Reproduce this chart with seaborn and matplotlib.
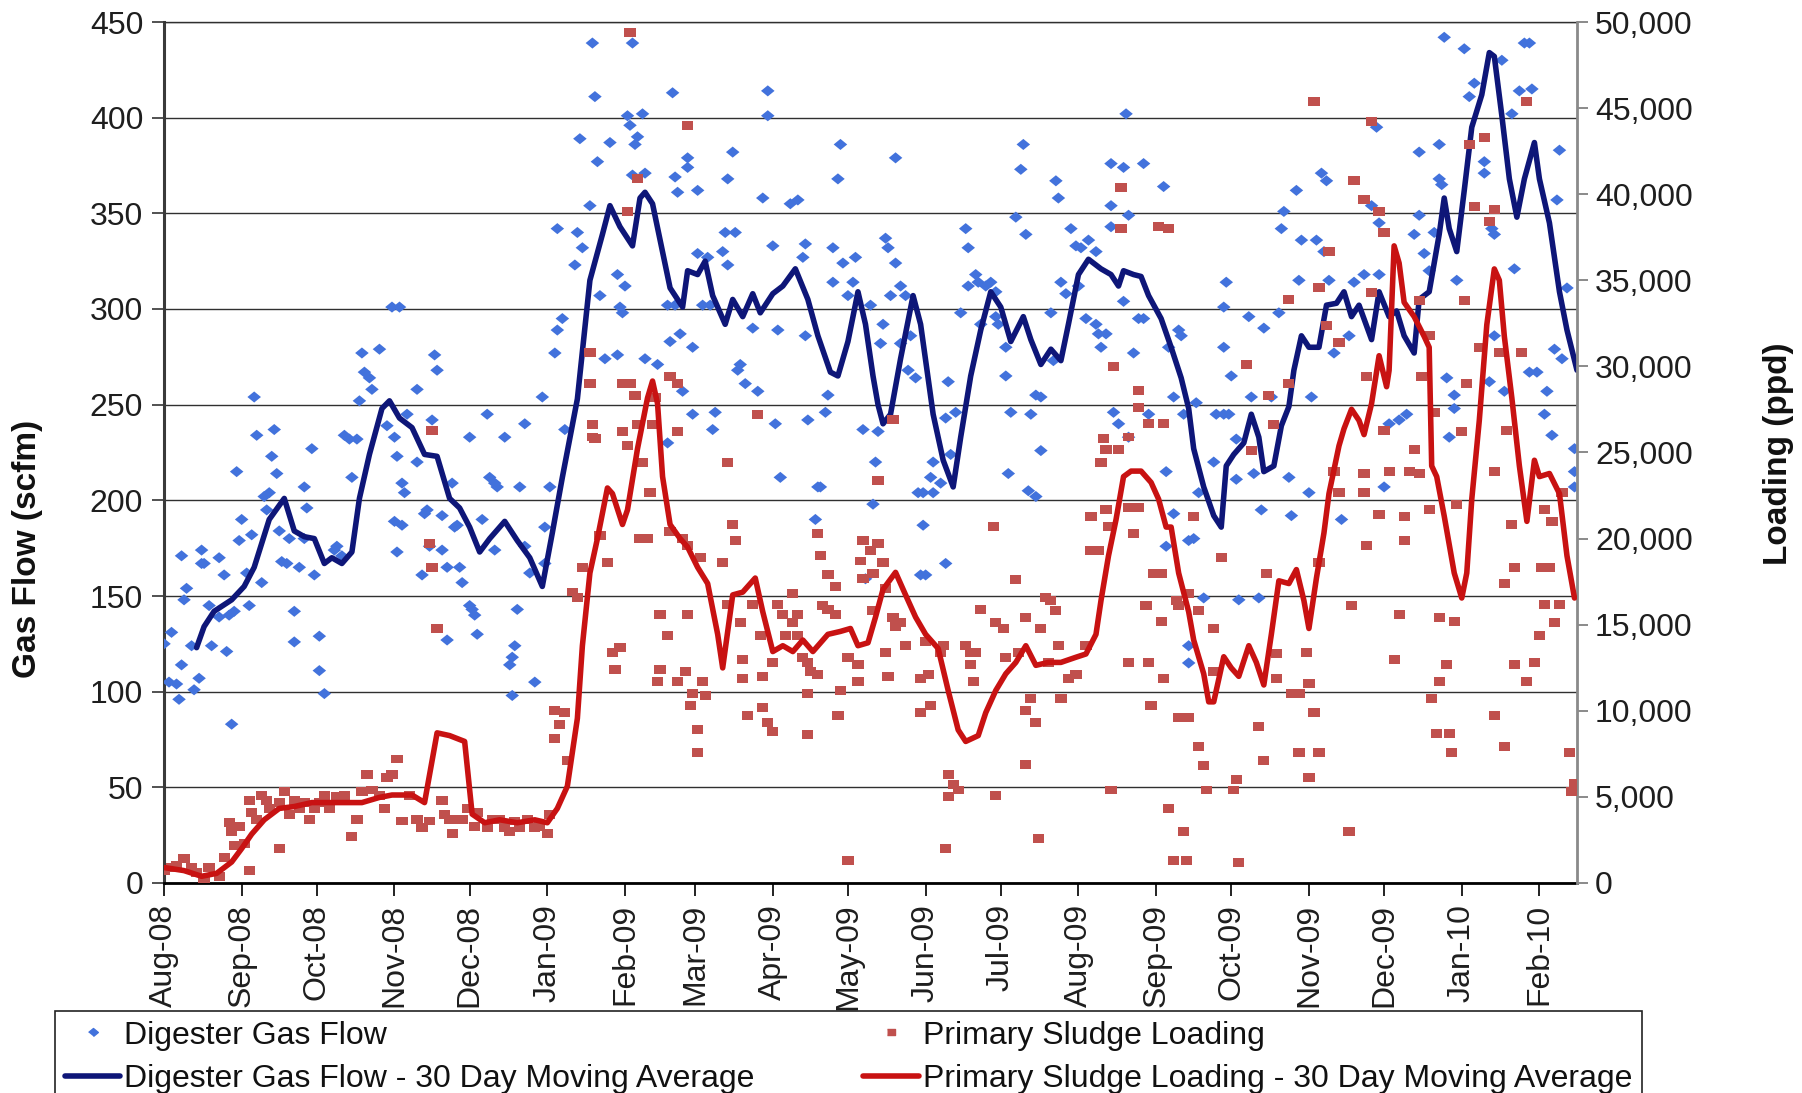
import numpy as np
import pandas as pd
import matplotlib
matplotlib.use("Agg")
import matplotlib.pyplot as plt
import matplotlib.dates as mdates
from matplotlib.ticker import FuncFormatter
from matplotlib.lines import Line2D
import seaborn as sns

# ---------------------------------------------------------------------------
# Daily digester gas flow (scfm), day offsets counted from 1 Aug 2008
# ---------------------------------------------------------------------------
gas_day = [
    0, 3, 2, 5, 6, 7, 7, 8, 9, 11, 12, 14, 15, 15, 16, 18, 19, 22, 22, 24,
    25, 26, 27, 28, 29, 30, 31, 33, 34, 35, 36, 37, 39, 40, 41, 42, 44, 43, 45, 46,
    47, 49, 50, 52, 52, 54, 56, 56, 57, 59, 60, 62, 62, 64, 68, 69, 71, 72, 74, 75,
    77, 78, 79, 80, 82, 83, 86, 89, 91, 94, 92, 93,
    92, 93, 95, 95, 96, 97, 101, 101, 104, 105, 106, 103, 108, 109, 107, 111, 111, 113, 113, 115,
    116, 117, 118, 119, 122, 122, 123, 124, 125, 127, 129, 130, 132, 133, 132, 136, 138, 139, 140, 139,
    141, 142, 144, 144, 146, 148, 151, 152, 154, 152, 156, 157, 159, 157, 160, 164, 165, 167, 166, 170,
    171, 172, 173, 174, 176, 178, 181, 181, 182, 183, 184, 185, 186, 187, 188, 189,
    191, 192, 187, 203, 204, 205, 209, 209, 213, 225, 227, 224, 228, 241, 241, 239, 243, 250, 253, 255,
    256, 270, 269, 267, 271, 276, 267, 275, 273, 225, 223, 213, 217, 218, 215, 201, 202, 206, 211, 204,
    192, 197, 207, 211, 220, 219, 229, 230, 232, 237, 235, 245, 256, 265, 264, 257, 244, 246, 261, 262,
    260, 279, 280, 201,
    292, 288, 289, 292, 290, 294, 287, 286, 282, 294, 297, 300, 298, 296, 285, 284, 283, 313, 312, 316,
    314, 307, 306, 310, 301, 303, 307, 303, 302, 304, 312, 320, 321, 324, 318, 321, 325, 328, 330, 332,
    332, 333, 336, 326, 340, 342, 343, 344, 336, 338, 346, 348, 350, 350, 337, 345, 348, 354, 355, 356,
    357, 358, 360, 362, 364, 366, 369, 365, 368, 372, 373, 374, 376, 372,
    384, 378, 383, 391, 399, 378, 385, 378, 383, 389, 391, 387, 405, 406, 401, 403, 407, 400, 403, 400,
    409, 411, 413, 412, 393, 379, 381, 385, 409, 409, 415, 419, 420, 423, 425, 424, 423, 423, 426, 428,
    428, 429, 433, 434, 439, 442, 435, 438, 437, 445, 446, 447, 449, 450, 452, 454, 453, 457, 458, 460,
    462, 464, 463, 465, 467, 470, 473, 475,
    479, 485, 487, 482, 485, 484, 489, 493, 496, 499, 503, 505, 501, 501, 509, 509, 507, 510, 511, 512,
    515, 515, 513, 516, 519, 521, 523, 527, 527, 530, 531, 529, 531, 535, 534, 538, 539, 541, 543, 545,
    546, 545, 548, 552, 551, 554, 557, 556, 555, 558, 560, 563, 563, 563,
]
gas_flow = [
    125, 131, 105, 104, 96, 114, 171, 148, 154, 124, 101, 107, 167, 174, 167, 145, 124, 170, 139, 161,
    121, 140, 83, 142, 215, 179, 190, 162, 145, 182, 254, 234, 157, 202, 195, 204, 237, 223, 214, 184,
    168, 167, 180, 142, 126, 165, 207, 180, 196, 227, 161, 129, 111, 99, 174, 176, 171, 234, 232, 212,
    232, 252, 277, 267, 264, 258, 279, 239, 301, 301, 189, 173,
    233, 223, 209, 187, 204, 245, 258, 220, 193, 195, 176, 161, 276, 268, 242, 192, 174, 165, 127, 209,
    186, 187, 165, 157, 233, 145, 143, 140, 130, 190, 245, 212, 209, 207, 174, 233, 114, 118, 124, 98,
    143, 207, 240, 176, 162, 105, 254, 186, 207, 167, 277, 289, 295, 342, 237, 323, 340, 332, 389, 354,
    439, 411, 377, 307, 274, 387, 276, 318, 301, 298, 312, 401, 396, 439, 386, 390,
    402, 371, 370, 413, 369, 361, 374, 379, 362, 368, 382, 340, 340, 414, 401, 358, 333, 355, 357, 327,
    334, 386, 368, 332, 324, 327, 314, 314, 307, 323, 330, 329, 327, 302, 302, 302, 283, 287, 280, 302,
    274, 271, 257, 245, 246, 237, 268, 271, 261, 257, 290, 289, 286, 255, 246, 242, 240, 212, 207, 207,
    190, 237, 159, 230,
    379, 337, 332, 324, 307, 312, 292, 282, 302, 282, 268, 264, 286, 307, 236, 220, 198, 262, 243, 246,
    224, 220, 212, 209, 204, 204, 204, 187, 161, 161, 167, 342, 332, 318, 298, 312, 314, 312, 314, 309,
    296, 292, 280, 292, 348, 373, 386, 339, 265, 246, 245, 255, 254, 226, 214, 205, 202, 298, 273, 367,
    358, 314, 308, 342, 333, 332, 336, 312, 295, 292, 287, 280, 287, 330,
    402, 376, 374, 376, 364, 354, 349, 343, 304, 295, 295, 277, 289, 286, 280, 254, 245, 215, 193, 176,
    179, 180, 204, 251, 245, 246, 240, 233, 124, 115, 149, 220, 245, 245, 245, 314, 301, 280, 265, 232,
    211, 148, 296, 254, 290, 254, 214, 195, 149, 298, 342, 351, 212, 192, 362, 336, 315, 204, 254, 336,
    371, 367, 330, 315, 277, 190, 286, 314,
    318, 318, 207, 354, 345, 395, 240, 242, 245, 339, 329, 320, 382, 349, 386, 368, 340, 365, 442, 264,
    255, 248, 233, 315, 436, 411, 418, 377, 371, 342, 339, 262, 286, 257, 430, 402, 321, 414, 439, 439,
    415, 267, 267, 257, 245, 234, 383, 357, 279, 274, 311, 227, 215, 207,
]

# ---------------------------------------------------------------------------
# Daily primary sludge loading (ppd)
# ---------------------------------------------------------------------------
sludge_day = [
    0, 3, 5, 8, 11, 13, 16, 18, 22, 24, 26, 27, 28, 30, 32, 34, 34, 35, 37, 39,
    41, 42, 46, 46, 48, 50, 52, 54, 56, 58, 60, 62, 64, 66, 69, 72, 75, 77, 79, 81,
    83, 86, 88, 89, 91, 93,
    95, 98, 101, 103, 106, 107, 106, 107, 109, 111, 112, 114, 115, 117, 119, 121, 124, 125, 129, 131,
    134, 136, 138, 140, 142, 145, 148, 150, 153, 154, 156, 158, 160, 156, 161, 163, 165, 167, 170, 170,
    171, 172, 174, 177, 179, 182, 180, 183, 184, 186, 188, 183, 171, 186, 189, 185, 190,
    209, 185, 189, 195, 196, 191, 194, 191, 193, 202, 205, 205, 202, 207, 209, 198, 201, 198, 197, 205,
    208, 209, 211, 210, 215, 216, 214, 213, 213, 225, 227, 228, 223, 225, 230, 231, 231, 233, 237, 238,
    235, 239, 239, 241, 243, 243, 245, 247, 248, 251, 251, 253, 253, 255, 257, 258, 261, 257, 257, 261,
    262, 265, 265, 268, 263, 268, 269, 270, 273, 273, 277, 277, 278, 279, 282, 283, 283, 279,
    285, 287, 288, 291, 292, 294, 296, 288, 289, 285, 291, 302, 302, 306, 305, 304, 310, 311, 313, 315,
    317, 313, 312, 320, 322, 324, 322, 323, 326, 332, 331, 332, 335, 336, 340, 341, 344, 344, 346, 348,
    344, 349, 352, 354, 356, 350, 353, 357, 358, 361, 364, 368, 370, 370, 373, 374, 375, 376, 376, 377,
    378,
    459, 382, 382, 397, 401, 379, 389, 389, 393, 399, 381, 385, 385, 389, 387, 395, 398, 392, 398, 404,
    405, 409, 413, 385, 393, 399, 394, 405, 409, 411, 413, 415, 416, 401, 407, 403, 408, 419, 419, 422,
    427, 428, 429, 432, 434, 437, 439, 440, 441, 443, 444, 444, 449, 449, 450, 453, 453, 457, 456, 457,
    459, 461, 461, 464, 465, 461, 469, 467, 469, 473, 474, 475, 479, 480, 479,
    482, 485, 487, 482, 480, 487, 479, 485, 489, 495, 495, 497, 501, 499, 505, 493, 491, 501, 505, 502,
    507, 509, 515, 512, 509, 506, 508, 513, 514, 516, 519, 520, 518, 521, 523, 525, 527, 529, 531, 531,
    533, 531, 535, 535, 536, 539, 538, 539, 542, 544, 544, 547, 549, 550, 551, 553, 555, 557, 551, 554,
    558, 561, 563, 562,
]
sludge_load = [
    700, 900, 1000, 1400, 900, 600, 200, 900, 400, 1500, 3500, 3000, 2200, 3300, 2300, 700, 4800, 4100, 3700, 5100,
    4800, 4300, 4700, 2000, 5300, 4000, 4800, 4300, 4700, 3700, 4300, 4700, 5100, 4300, 5000, 5100, 2700, 3700, 5300, 6300,
    5400, 5100, 4300, 6100, 6300, 7200,
    3600, 5100, 3700, 3200, 3600, 26300, 19700, 18300, 14800, 4800, 4000, 3700, 2900, 3700, 3700, 4300, 3300, 4100, 3200, 3700,
    3700, 3200, 3000, 3600, 3200, 3700, 3200, 3300, 2900, 4000, 10000, 9200, 9900, 8400, 7100, 16900, 16600, 18300, 30800, 29000,
    26600, 25800, 20200, 18600, 13400, 13700, 12400, 29000, 29000, 29000, 28300, 26200, 25900, 49400, 40900, 39000, 20000,
    44000, 25400, 26600, 26600, 28200, 24400, 22700, 20000, 20000, 29400, 29000, 26200, 20400, 20000, 19600, 15600, 14400, 12400, 11700, 11700,
    12300, 15600, 11000, 10300, 11700, 10900, 18900, 8900, 7600, 24400, 20800, 19900, 18600, 16200, 15100, 13000, 11900, 9700, 27200, 14400,
    16200, 12000, 10200, 9300, 12800, 8800, 16200, 15600, 14400, 16800, 15100, 15600, 14400, 13100, 12800, 12300, 12100, 11000, 8600, 20300,
    19000, 17900, 15900, 15600, 16100, 17200, 9700, 11200, 1300, 13100, 12700, 11700, 18700, 19900, 19300, 18000, 15800, 17700,
    19700, 18600, 17100, 15400, 14900, 15100, 13800, 13400, 12000, 23400, 26900, 11900, 9900, 10300, 12100, 14000, 13400, 13800, 6300, 5700,
    5400, 5000, 2000, 13800, 13400, 13400, 12700, 11700, 15900, 5100, 20700, 15100, 14800, 13100, 17600, 13400, 15400, 10000, 10700, 9300,
    6900, 2600, 16600, 16400, 15800, 14800, 12800, 13800, 10700, 11900, 12100, 13800, 19300, 21300, 19300, 24400, 25800, 25200, 21700, 20700,
    5400,
    45400, 40400, 38000, 38100, 38000, 30000, 28600, 27600, 26700, 26700, 25200, 25900, 21800, 21800, 20300, 18000, 18000, 16100, 15200, 16400,
    16100, 16800, 15800, 12800, 12800, 11900, 10300, 9600, 9600, 21300, 7900, 6800, 5400, 4300, 3000, 1300, 1300, 14800, 12300, 18900,
    5400, 6000, 1200, 30100, 25100, 9100, 7100, 18000, 28300, 26600, 13300, 11900, 29000, 33900, 11000, 11000, 7600, 6100, 13400, 11600,
    9900, 7600, 18600, 32400, 36700, 34600, 31400, 23900, 22700, 3000, 16100, 40800, 39700, 19600, 22700,
    44200, 39000, 37800, 34300, 29400, 26300, 23800, 21400, 23900, 21300, 19900, 23900, 23800, 25200, 21700, 15600, 13000, 33800, 31800, 29400,
    27300, 15400, 15200, 12700, 11700, 10700, 8700, 8700, 7600, 22000, 33800, 29000, 26200, 42900, 39300, 31100, 43300, 38400, 39100, 23900,
    30800, 9700, 7900, 17400, 26300, 18300, 20800, 12700, 30800, 45400, 11700, 12800, 14400, 18300, 16200, 18300, 15100, 16200, 21700, 21000,
    22700, 7600, 5800, 5300,
]

# ---------------------------------------------------------------------------
# 30 day moving averages
# ---------------------------------------------------------------------------
gas_ma_day = [
    13, 16, 20, 27, 32, 36, 42, 48, 52, 56, 60, 64, 67, 71, 75, 78, 82, 87, 90, 94,
    99, 104, 109, 114, 118, 122, 126, 130, 136, 141, 146, 151, 155, 159, 165, 170, 175, 178, 182, 187,
    190, 192, 195, 199, 202, 207, 209, 213, 216, 219, 224, 227, 231, 235, 238, 243, 247, 252, 257, 261,
    266, 269, 273, 277, 280, 283, 285, 287, 290, 294, 299, 302, 307, 311, 315, 318, 322, 326, 330, 334,
    338, 343, 346, 350, 354, 358, 361, 365, 369, 374, 378, 381, 383, 387, 390, 393, 398, 402, 406, 409,
    411, 415, 419, 422, 424, 427, 431, 434, 437, 439, 443, 446, 449, 451, 454, 457, 461, 464, 468, 471,
    474, 477, 482, 485, 489, 492, 495, 499, 501, 505, 509, 511, 513, 516, 519, 522, 526, 529, 531, 534,
    537, 540, 543, 547, 549, 553, 557, 560, 564,
]
gas_ma = [
    123, 134, 142, 148, 155, 165, 190, 201, 184, 181, 180, 167, 170, 167, 173, 201, 224, 248, 252, 243,
    238, 224, 223, 201, 196, 186, 173, 180, 189, 179, 170, 155, 183, 212, 253, 315, 339, 354, 343, 333,
    358, 361, 355, 330, 311, 301, 320, 318, 325, 307, 292, 305, 296, 308, 298, 308, 312, 321, 305, 286,
    267, 265, 283, 309, 292, 265, 250, 240, 245, 274, 307, 292, 245, 221, 207, 233, 265, 289, 309, 301,
    283, 296, 284, 271, 279, 273, 292, 318, 326, 321, 318, 312, 320, 318, 317, 307, 295, 280, 264, 248,
    227, 207, 192, 186, 218, 224, 230, 245, 233, 215, 218, 239, 249, 268, 286, 280, 280, 302, 303, 309,
    296, 302, 284, 309, 296, 299, 286, 277, 305, 309, 339, 358, 342, 330, 362, 395, 412, 434, 432, 401,
    368, 348, 368, 387, 368, 345, 309, 289, 268,
]
sludge_ma_day = [
    0, 8, 15, 21, 27, 31, 35, 40, 46, 52, 59, 66, 72, 79, 86, 91, 99, 104, 109, 114,
    120, 123, 128, 134, 141, 148, 153, 157, 161, 165, 167, 170, 173, 177, 179, 183, 185, 189, 193, 195,
    197, 199, 202, 206, 209, 213, 217, 221, 223, 227, 231, 236, 239, 243, 247, 251, 255, 259, 265, 270,
    274, 277, 281, 284, 287, 292, 296, 300, 304, 309, 313, 317, 320, 325, 328, 332, 336, 340, 344, 348,
    353, 358, 364, 368, 372, 374, 377, 380, 383, 386, 390, 394, 397, 400, 402, 405, 409, 411, 415, 417,
    419, 423, 426, 429, 433, 436, 439, 442, 445, 449, 452, 455, 457, 460, 463, 465, 469, 471, 474, 477,
    479, 482, 485, 488, 489, 491, 493, 495, 499, 503, 505, 506, 508, 511, 515, 518, 520, 522, 525, 528,
    531, 533, 535, 538, 541, 544, 547, 549, 553, 557, 560, 563,
]
sludge_ma = [
    900, 720, 390, 560, 1220, 2000, 2840, 3670, 4330, 4440, 4670, 4670, 4670, 4670, 4970, 5110, 5110, 4670, 8720, 8560,
    8220, 4000, 3500, 3670, 3500, 3670, 3500, 4330, 5620, 9560, 13780, 18000, 20000, 22940, 22610, 20820, 21670, 25220, 28170, 29150,
    27840, 23600, 20820, 20000, 19510, 18330, 17390, 14440, 12490, 16730, 16890, 17710, 15750, 13440, 13780, 13440, 14110, 13440, 14440, 14610,
    14780, 13780, 13950, 15440, 17050, 18040, 16730, 15440, 14440, 13620, 11180, 8890, 8220, 8560, 9890, 11180, 12150, 12810, 13780, 12640,
    12810, 12810, 13110, 13300, 14440, 16400, 19000, 21100, 23600, 23920, 23920, 23260, 22290, 20670, 20670, 18000, 15750, 14110, 12150, 10520,
    10520, 13140, 12490, 12000, 13780, 12810, 11500, 14440, 17550, 17390, 18200, 16400, 14780, 17710, 20330, 22610, 25390, 26380, 27510, 26860,
    26040, 27840, 30620, 28820, 29770, 37000, 36000, 33720, 32890, 31740, 31110, 24220, 23600, 21310, 18000, 16550, 18000, 22290, 26860, 32420,
    35660, 35000, 31740, 28160, 24220, 21000, 24550, 23600, 23780, 22610, 19000, 16550,
]

# Axis setup values
gas_ticks = list(range(0, 451, 50))
load_ticks = list(range(0, 50001, 5000))
series_labels = [
    "Digester Gas Flow",
    "Digester Gas Flow - 30 Day Moving Average",
    "Primary Sludge Loading",
    "Primary Sludge Loading - 30 Day Moving Average",
]

# ---------------------------------------------------------------------------
sns.set_theme(style="white")
plt.rcParams["font.family"] = ["Liberation Sans", "DejaVu Sans"]

start = pd.Timestamp("2008-08-01")


def to_dates(days):
    return start + pd.to_timedelta(np.asarray(days), unit="D")


gas_pts = pd.DataFrame({"date": to_dates(gas_day), "flow": gas_flow})
sludge_pts = pd.DataFrame({"date": to_dates(sludge_day), "load": sludge_load})
gas_avg = pd.DataFrame({"date": to_dates(gas_ma_day), "flow": gas_ma})
sludge_avg = pd.DataFrame({"date": to_dates(sludge_ma_day), "load": sludge_ma})

BLUE_PT = "#4272DC"
RED_PT = "#C0504D"
BLUE_LN = "#0E1678"
RED_LN = "#C81212"

diamond = [(-1, 0), (0, 0.82), (1, 0), (0, -0.82)]
square = [(-1, -0.8), (1, -0.8), (1, 0.8), (-1, 0.8)]

W, H = 1802, 1093
fig = plt.figure(figsize=(W / 100, H / 100), dpi=100)
ax = fig.add_axes([164 / W, 1 - 883 / H, (1577 - 164) / W, (883 - 22) / H])
ax2 = ax.twinx()

sns.scatterplot(data=gas_pts, x="date", y="flow", ax=ax, marker=diamond, s=95,
                color=BLUE_PT, edgecolor="none", linewidth=0, legend=False, zorder=3)
sns.lineplot(data=gas_avg, x="date", y="flow", ax=ax, color=BLUE_LN, lw=4.0,
             legend=False, zorder=4)
sns.scatterplot(data=sludge_pts, x="date", y="load", ax=ax2, marker=square, s=65,
                color=RED_PT, edgecolor="none", linewidth=0, legend=False, zorder=3)
sns.lineplot(data=sludge_avg, x="date", y="load", ax=ax2, color=RED_LN, lw=4.0,
             legend=False, zorder=4)

# x axis: monthly ticks
ax.set_xlim(start, start + pd.Timedelta(days=564))
ax.xaxis.set_major_locator(mdates.MonthLocator())
ax.xaxis.set_major_formatter(mdates.DateFormatter("%b-%y"))
ax.set_xlabel("")
ax.set_ylabel("")
ax2.set_ylabel("")

# left axis
ax.set_ylim(0, 450)
ax.set_yticks(gas_ticks)
ax.grid(axis="y", color="#303030", lw=1.0)
ax.grid(axis="x", visible=False)
ax.set_axisbelow(True)

# right axis
ax2.set_ylim(0, 50000)
ax2.set_yticks(load_ticks)
ax2.yaxis.set_major_formatter(FuncFormatter(lambda v, p: f"{int(v):,}"))
ax2.grid(False)

TICK_CLR = "#1e1e1e"
ax.tick_params(axis="x", bottom=True, direction="out", length=9, width=1.4,
               color="#222222", pad=6, labelsize=23, labelrotation=90, labelcolor=TICK_CLR)
ax.tick_params(axis="y", left=True, right=False, direction="out", length=9, width=1.2,
               color="#333333", pad=6, labelsize=23, labelcolor=TICK_CLR)
ax2.tick_params(axis="y", right=True, left=False, direction="out", length=8, width=1.2,
                color="#777777", pad=5, labelsize=23, labelcolor=TICK_CLR)

for lbl in ax.get_xticklabels():
    lbl.set_ha("center")
    lbl.set_va("top")

# spines
ax.spines["left"].set_color("#3a3a3a")
ax.spines["left"].set_linewidth(2.2)
ax.spines["bottom"].set_color("#000000")
ax.spines["bottom"].set_linewidth(2.0)
ax.spines["top"].set_color("#303030")
ax.spines["top"].set_linewidth(1.0)
ax.spines["right"].set_visible(False)
for side in ("left", "top", "bottom"):
    ax2.spines[side].set_visible(False)
ax2.spines["right"].set_color("#8a8a8a")
ax2.spines["right"].set_linewidth(2.0)

# axis titles
fig.text(28 / W, 1 - 549 / H, "Gas Flow (scfm)", rotation=90, ha="center", va="center",
         fontsize=24, fontweight="bold", color="#111111")
fig.text(1779 / W, 1 - 454 / H, "Loading (ppd)", rotation=90, ha="center", va="center",
         fontsize=24, fontweight="bold", color="#111111")

# legend
handles = [
    Line2D([], [], marker=diamond, linestyle="none", color=BLUE_PT, markersize=7),
    Line2D([], [], color=BLUE_LN, lw=4.0),
    Line2D([], [], marker=square, linestyle="none", color=RED_PT, markersize=6),
    Line2D([], [], color=RED_LN, lw=4.0),
]
leg = fig.legend(handles, series_labels, ncol=2, loc="upper left",
                 bbox_to_anchor=(55 / W, 1 - 1011 / H), borderaxespad=0,
                 fontsize=23, handlelength=1.75, handletextpad=0.12,
                 columnspacing=3.4, labelspacing=0.42, borderpad=0.3,
                 frameon=True, fancybox=False, framealpha=1, edgecolor="#222222")
leg.get_frame().set_linewidth(1.2)
for t in leg.get_texts():
    t.set_color("#111111")

fig.savefig("out.png", dpi=100)
